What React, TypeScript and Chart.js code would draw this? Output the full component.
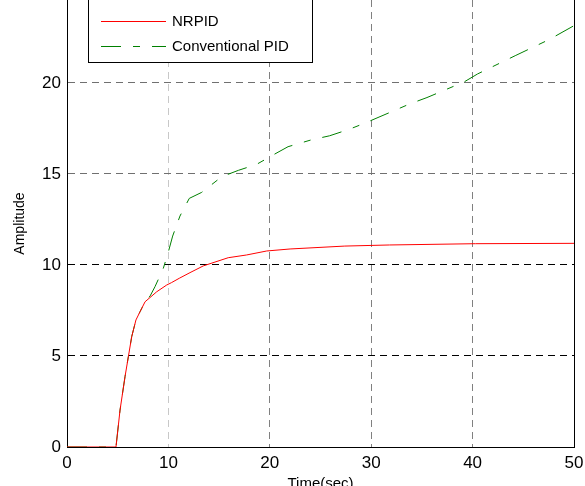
import { useEffect, useRef } from "react";
import { Chart, registerables } from "chart.js";

Chart.register(...registerables);

// ---- data ----
const nrpidTime = [0, 4.83, 5.23, 5.72, 6.05, 6.38, 6.8, 7.2, 7.7, 8.85, 9.83, 10.3, 11.07, 12.13, 13.44, 15.9, 17.7, 19.7, 22, 27.4, 31.8, 40.3, 50];
const nrpidAmp = [0, 0, 2.03, 3.86, 4.96, 6.06, 6.98, 7.43, 7.98, 8.53, 8.9, 9.03, 9.27, 9.58, 9.95, 10.4, 10.55, 10.77, 10.88, 11.04, 11.1, 11.17, 11.19];

const pidTime = [0, 4.83, 5.23, 5.72, 6.05, 6.38, 6.8, 7.2, 7.7, 8.2, 8.68, 9.5, 10, 10.42, 11.14, 12.06, 13.28, 15.26, 16.9, 18.7, 20.5, 21.8, 24.06, 25.9, 27.8, 29.4, 33.8, 35.5, 39.2, 40.5, 44.2, 47.6, 50];
const pidAmp = [0, 0, 2.03, 3.86, 4.96, 6.06, 6.98, 7.43, 7.98, 8.3, 8.81, 9.82, 10.73, 11.59, 12.69, 13.66, 13.99, 14.85, 15.2, 15.53, 16.1, 16.5, 16.87, 17.1, 17.45, 17.8, 18.85, 19.2, 20.07, 20.5, 21.5, 22.4, 23.15];

const xTicks = [0, 10, 20, 30, 40, 50];
const yTicks = [0, 5, 10, 15, 20];
const seriesLabels = ["NRPID", "Conventional PID"];
const xTitle = "Time(sec)";
const yTitle = "Amplitude";

const FONT = "'Liberation Sans', Arial, Helvetica, sans-serif";
const RED = "#ff0000";
const GREEN = "#008000";
const GREEN_DASH = [20, 12, 7, 12];

const toPoints = (xs: number[], ys: number[]) => xs.map((x, i) => ({ x, y: ys[i] }));

const framePlugin = {
  id: "frameAndLegend",
  afterDraw(chart: any) {
    const { ctx, chartArea } = chart;
    ctx.save();
    // right axis line
    ctx.strokeStyle = "#000";
    ctx.lineWidth = 1;
    ctx.setLineDash([]);
    ctx.beginPath();
    ctx.moveTo(Math.round(chartArea.right) + 0.5, chartArea.top);
    ctx.lineTo(Math.round(chartArea.right) + 0.5, chartArea.bottom + 0.5);
    ctx.stroke();

    // legend box
    const bx = 88.5, by = -5, bw = 224, bh = 67.5;
    ctx.fillStyle = "#fff";
    ctx.fillRect(bx, by, bw, bh);
    ctx.strokeRect(bx, by, bw, bh);

    const ds = chart.data.datasets;
    ctx.font = `15px ${FONT}`;
    ctx.textBaseline = "middle";
    ctx.textAlign = "left";
    const rows = [21, 46];
    ds.forEach((d: any, i: number) => {
      const y = rows[i] + 0.5;
      ctx.strokeStyle = d.borderColor;
      ctx.lineWidth = 1;
      ctx.setLineDash(d.borderDash || []);
      ctx.beginPath();
      ctx.moveTo(101, y);
      ctx.lineTo(166, y);
      ctx.stroke();
      ctx.setLineDash([]);
      ctx.fillStyle = "#000";
      ctx.fillText(d.label, 172, rows[i] + 1);
    });
    ctx.restore();
  },
};

export default function App() {
  const ref = useRef<HTMLCanvasElement>(null);

  useEffect(() => {
    if (!ref.current) return;
    const chart = new Chart(ref.current, {
      type: "line",
      data: {
        datasets: [
          {
            label: seriesLabels[0],
            data: toPoints(nrpidTime, nrpidAmp),
            borderColor: RED,
            borderWidth: 1,
            pointRadius: 0,
            tension: 0,
            fill: false,
          },
          {
            label: seriesLabels[1],
            data: toPoints(pidTime, pidAmp),
            borderColor: GREEN,
            borderWidth: 1,
            borderDash: GREEN_DASH,
            pointRadius: 0,
            tension: 0,
            fill: false,
          },
        ],
      },
      options: {
        animation: false,
        responsive: false,
        devicePixelRatio: 1,
        layout: { padding: { left: 0, right: 11, top: 0, bottom: 0 } },
        plugins: {
          legend: { display: false },
          tooltip: { enabled: false },
          title: { display: false },
        },
        scales: {
          x: {
            type: "linear",
            min: 0,
            max: 50,
            afterBuildTicks: (s: any) => {
              s.ticks = xTicks.map((v) => ({ value: v }));
            },
            afterFit: (s: any) => {
              s.height = 39;
              s.paddingLeft = 0;
              s.paddingRight = 0;
            },
            ticks: {
              color: "#000",
              font: { family: FONT, size: 17 },
              padding: 6,
              maxRotation: 0,
              autoSkip: false,
            },
            grid: {
              drawTicks: false,
              lineWidth: 1,
              color: (c: any) => {
                const v = c.tick ? c.tick.value : null;
                if (v === 0 || v === 50) return "rgba(0,0,0,0)";
                if (v === 10) return "#c8c8c8";
                return "#808080";
              },
            },
            border: { display: true, color: "#000", width: 1, dash: [7, 5] },
            title: {
              display: true,
              text: xTitle,
              color: "#000",
              font: { family: FONT, size: 15, lineHeight: 1 },
              padding: { top: 0, bottom: -5 },
            },
          },
          y: {
            type: "linear",
            min: 0,
            max: 24.56,
            afterBuildTicks: (s: any) => {
              s.ticks = yTicks.map((v) => ({ value: v }));
            },
            afterFit: (s: any) => {
              s.width = 67;
              s.paddingTop = 0;
              s.paddingBottom = 0;
            },
            ticks: {
              color: "#000",
              font: { family: FONT, size: 17 },
              padding: 6,
              autoSkip: false,
            },
            grid: {
              drawTicks: false,
              lineWidth: 1,
              color: (c: any) => {
                const v = c.tick ? c.tick.value : null;
                if (v === 0) return "rgba(0,0,0,0)";
                if (v === 5 || v === 10) return "#000000";
                return "#707070";
              },
            },
            border: { display: true, color: "#000", width: 1, dash: [7, 5] },
            title: {
              display: true,
              text: yTitle,
              color: "#000",
              font: { family: FONT, size: 14, lineHeight: 1 },
              padding: { top: 13, bottom: 0 },
            },
          },
        },
      },
      plugins: [framePlugin],
    } as any);
    return () => chart.destroy();
  }, []);

  return (
    <div style={{ position: "fixed", left: 0, top: 0, width: 585, height: 486, background: "#fff" }}>
      <canvas ref={ref} width={585} height={486} style={{ display: "block" }} />
    </div>
  );
}
